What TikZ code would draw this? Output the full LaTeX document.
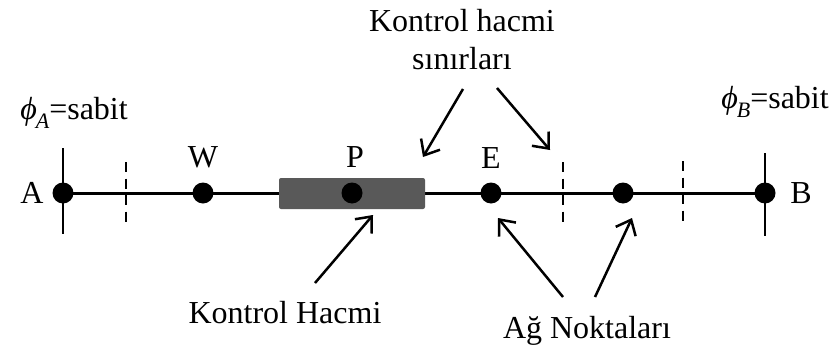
\documentclass[tikz,border=0pt]{standalone}
\usepackage{fontspec}
\setmainfont{Liberation Serif}
\usetikzlibrary{arrows.meta}
\pgfdeclarelayer{bg}
\pgfsetlayers{bg,main}
\begin{document}
\begin{tikzpicture}[x=1pt,y=-1pt,
  every node/.style={font=\fontsize{32}{38}\selectfont},
  gridpt/.style={circle,fill=black,inner sep=0pt,minimum size=21pt},
  face/.style={line width=2.8pt,dash pattern=on 10pt off 6.5pt},
  pointer/.style={line width=2.5pt,-{Straight Barb[length=13pt,width=22pt,line width=2.5pt]}},
  lbl/.style={inner sep=0pt}]
\useasboundingbox (0,0) rectangle (836,351);
% grid points
\node[gridpt] (A) at (63,193) {};
\node[gridpt] (W) at (203,193) {};
\node[gridpt] (E) at (491,193) {};
\node[gridpt] (N5) at (623,193) {};
\node[gridpt] (B) at (765,193) {};
% grid line and boundary marks, kept beneath the control volume
\begin{pgfonlayer}{bg}
\draw[line width=3pt] (A.center) -- (B.center);
\draw[line width=2.5pt] (63,148) -- (63,234);
\draw[line width=2.5pt] (765,153) -- (765,236);
\end{pgfonlayer}
% control volume around P
\node[fill=black!65,rounded corners=2pt,minimum width=146pt,minimum height=31pt,inner sep=0pt] (cv) at (352,193.5) {};
\node[gridpt] (P) at (352,193) {};
% control volume faces
\coordinate (f1t) at (126,162); \coordinate (f1b) at (126,225);
\coordinate (f2t) at (563,162); \coordinate (f2b) at (563,225);
\coordinate (f3t) at (683,161); \coordinate (f3b) at (683,225);
\draw[face] (f1t) -- (f1b);
\draw[face] (f2t) -- (f2b);
\draw[face] (f3t) -- (f3b);
% labels
\node[lbl] (lA) at (32,193) {A};
\node[lbl] (lB) at (801,193) {B};
\node[lbl] (lW) at (203,157) {W};
\node[lbl] (lP) at (355,157) {P};
\node[lbl] (lE) at (491,158) {E};
\node[lbl,anchor=base] (phA) at (74,119) {{\itshape ϕ\kern-1pt\raisebox{-9pt}{\fontsize{22}{26}\selectfont A}}=sabit};
\node[lbl,anchor=base] (phB) at (775,108) {{\itshape ϕ\kern-1pt\raisebox{-9pt}{\fontsize{22}{26}\selectfont B}}=sabit};
\node[lbl,align=center] (kh) at (462,40) {Kontrol hacmi\\sınırları};
\node[lbl] (khv) at (285,313) {Kontrol Hacmi};
\node[lbl] (ag) at (587,331) {Ağ Noktaları};
% pointers
\coordinate (s1) at (463,89); \coordinate (e1) at (423,157);
\coordinate (s2) at (497,88); \coordinate (e2) at (550,150);
\coordinate (s3) at (315,283); \coordinate (e3) at (373,215);
\coordinate (s4) at (563,297); \coordinate (e4) at (498,218);
\coordinate (s5) at (595,297); \coordinate (e5) at (632,218);
\draw[pointer] (s1) -- (e1);
\draw[pointer] (s2) -- (e2);
\draw[pointer] (s3) -- (e3);
\draw[pointer] (s4) -- (e4);
\draw[pointer] (s5) -- (e5);
\end{tikzpicture}
\end{document}
